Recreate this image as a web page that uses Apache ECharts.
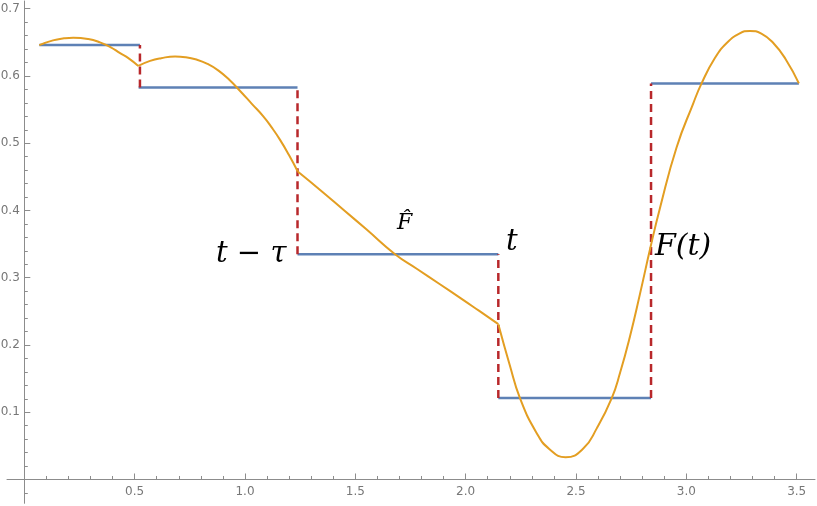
<!DOCTYPE html>
<html><head><meta charset="utf-8">
<script src="https://cdn.jsdelivr.net/npm/echarts@6/dist/echarts.min.js"></script>
<style>html,body{margin:0;padding:0;background:#fff}#c{width:817px;height:506px}</style>
</head><body><div id="c"></div>
<script>
// ---- axis ticks / labels ----
const xMajor = [0.5, 1.0, 1.5, 2.0, 2.5, 3.0, 3.5];
const xMinor = [0.1, 0.2, 0.3, 0.4, 0.6, 0.7, 0.8, 0.9, 1.1, 1.2, 1.3, 1.4, 1.6, 1.7, 1.8, 1.9,
                2.1, 2.2, 2.3, 2.4, 2.6, 2.7, 2.8, 2.9, 3.1, 3.2, 3.3, 3.4];
const yMajor = [0.1, 0.2, 0.3, 0.4, 0.5, 0.6, 0.7];
const yMinor = [-0.02, 0.02, 0.04, 0.06, 0.08, 0.12, 0.14, 0.16, 0.18, 0.22, 0.24, 0.26, 0.28,
                0.32, 0.34, 0.36, 0.38, 0.42, 0.44, 0.46, 0.48, 0.52, 0.54, 0.56, 0.58,
                0.62, 0.64, 0.66, 0.68];

// ---- curve F (piecewise, kinks at the step boundaries) ----
const curveSeg1 = [[0.068,0.646],[0.13,0.653],[0.18,0.656],[0.222,0.657],[0.29,0.655],[0.343,0.650],
                   [0.39,0.643],[0.434,0.634],[0.47,0.627],[0.5165,0.615]];
const curveSeg2 = [[0.5165,0.615],[0.57,0.6225],[0.62,0.6265],[0.683,0.629],[0.73,0.628],[0.78,0.6245],
                   [0.83,0.618],[0.88,0.608],[0.93,0.594],[0.98,0.577],[1.03,0.559],[1.083,0.540],
                   [1.12,0.524],[1.159,0.505],[1.20,0.482],[1.239,0.458]];
const curveSeg3 = [[1.239,0.458],[1.35,0.428],[1.45,0.400],[1.55,0.372],[1.68,0.335],[1.78,0.313],
                   [1.88,0.291],[1.98,0.269],[2.06,0.251],[2.148,0.231]];
const curveSeg4 = [[2.148,0.231],[2.20,0.170],[2.246,0.121],[2.32,0.070],[2.38,0.045],[2.453,0.033],
                   [2.533,0.046],[2.594,0.076],[2.662,0.121],[2.70,0.159],[2.744,0.212],[2.79,0.276],
                   [2.838,0.346],[2.88,0.403],[2.956,0.494],[3.031,0.559],[3.069,0.589],[3.13,0.627],
                   [3.183,0.649],[3.24,0.663],[3.288,0.667],[3.34,0.663],[3.394,0.649],[3.45,0.625],
                   [3.51,0.589]];

// ---- step approximation F-hat ----
const stepStart = [0.068, 0.518, 1.238, 2.148, 2.840];
const stepEnd   = [0.524, 1.238, 2.148, 2.840, 3.510];
const stepValue = [0.646, 0.583, 0.335, 0.121, 0.589];

// ---- annotation texts ----
const labelTexts = ['t \u2212 \u03C4', 'F\u0302', 't', 'F(t)'];

const XMIN = -0.0784, XMAX = 3.583, YMIN = -0.0354, YMAX = 0.7115;
const AX = '#8c8c8c', LAB = '#777777';
const ORANGE = '#E39E22', BLUE = '#5E81B5', RED = '#B8282B';

function axisCfg(isX, major) {
  return {
    type: 'value', min: isX ? XMIN : YMIN, max: isX ? XMAX : YMAX,
    position: isX ? 'bottom' : 'left',
    axisLine: { show: major, onZero: true, lineStyle: { color: AX, width: 1 } },
    axisTick: { show: true, inside: true, length: major ? 6 : 3.5,
                customValues: isX ? (major ? xMajor : xMinor) : (major ? yMajor : yMinor),
                lineStyle: { color: AX, width: 1 } },
    axisLabel: { show: false },
    splitLine: { show: false }
  };
}

const tickLabelStyle = { color: LAB, fontFamily: 'DejaVu Sans', fontSize: 12, opacity: 1 };
const series = [];
stepValue.forEach((v, i) => {
  series.push({ type: 'line', data: [[stepStart[i], v], [stepEnd[i], v]], symbol: 'none',
    lineStyle: { color: BLUE, width: 2.5 }, z: 2, silent: true });
});
for (let i = 0; i < stepValue.length - 1; i++) {
  const lo = Math.min(stepValue[i], stepValue[i + 1]);
  const hi = Math.max(stepValue[i], stepValue[i + 1]);
  series.push({ type: 'line', data: [[stepEnd[i], lo], [stepEnd[i], hi]], symbol: 'none',
    lineStyle: { color: RED, width: 2.5, type: [8, 5] }, z: 3, silent: true });
}
[curveSeg1, curveSeg2, curveSeg3, curveSeg4].forEach(seg => {
  series.push({ type: 'line', data: seg, symbol: 'none', smooth: 0.5,
    lineStyle: { color: ORANGE, width: 2 }, z: 4, silent: true });
});
// tick labels (placed on the axes through the value scales)
series.push({ type: 'scatter', data: xMajor.map(v => [v, 0]), symbolSize: 1,
  itemStyle: { color: 'rgba(255,255,255,0)' }, silent: true, clip: false,
  label: Object.assign({ show: true, position: 'bottom', distance: 6,
    formatter: p => p.value[0].toFixed(1) }, tickLabelStyle) });
series.push({ type: 'scatter', data: yMajor.map(v => [0, v]), symbolSize: 1,
  itemStyle: { color: 'rgba(255,255,255,0)' }, silent: true, clip: false,
  label: Object.assign({ show: true, position: 'left', distance: 4,
    formatter: p => p.value[1].toFixed(1) }, tickLabelStyle) });

const serif = { fontFamily: 'DejaVu Serif', fontStyle: 'italic', fill: '#000' };
const chart = echarts.init(document.getElementById('c'), null, { renderer: 'canvas' });
chart.setOption({
  animation: false,
  backgroundColor: '#fff',
  grid: { left: 7, right: 2, top: 1, bottom: 2.7, containLabel: false, outerBoundsMode: 'none' },
  xAxis: [axisCfg(true, true), axisCfg(true, false)],
  yAxis: [axisCfg(false, true), axisCfg(false, false)],
  series: series,
  graphic: [
    { type: 'text', left: 216, top: 240, style: Object.assign({ text: labelTexts[0], fontSize: 29 }, serif) },
    { type: 'text', left: 397, top: 212, style: Object.assign({ text: labelTexts[1], fontSize: 22 }, serif) },
    { type: 'text', left: 506, top: 228, style: Object.assign({ text: labelTexts[2], fontSize: 29 }, serif) },
    { type: 'text', left: 655, top: 232, style: Object.assign({ text: labelTexts[3], fontSize: 30 }, serif) }
  ]
});
</script></body></html>
